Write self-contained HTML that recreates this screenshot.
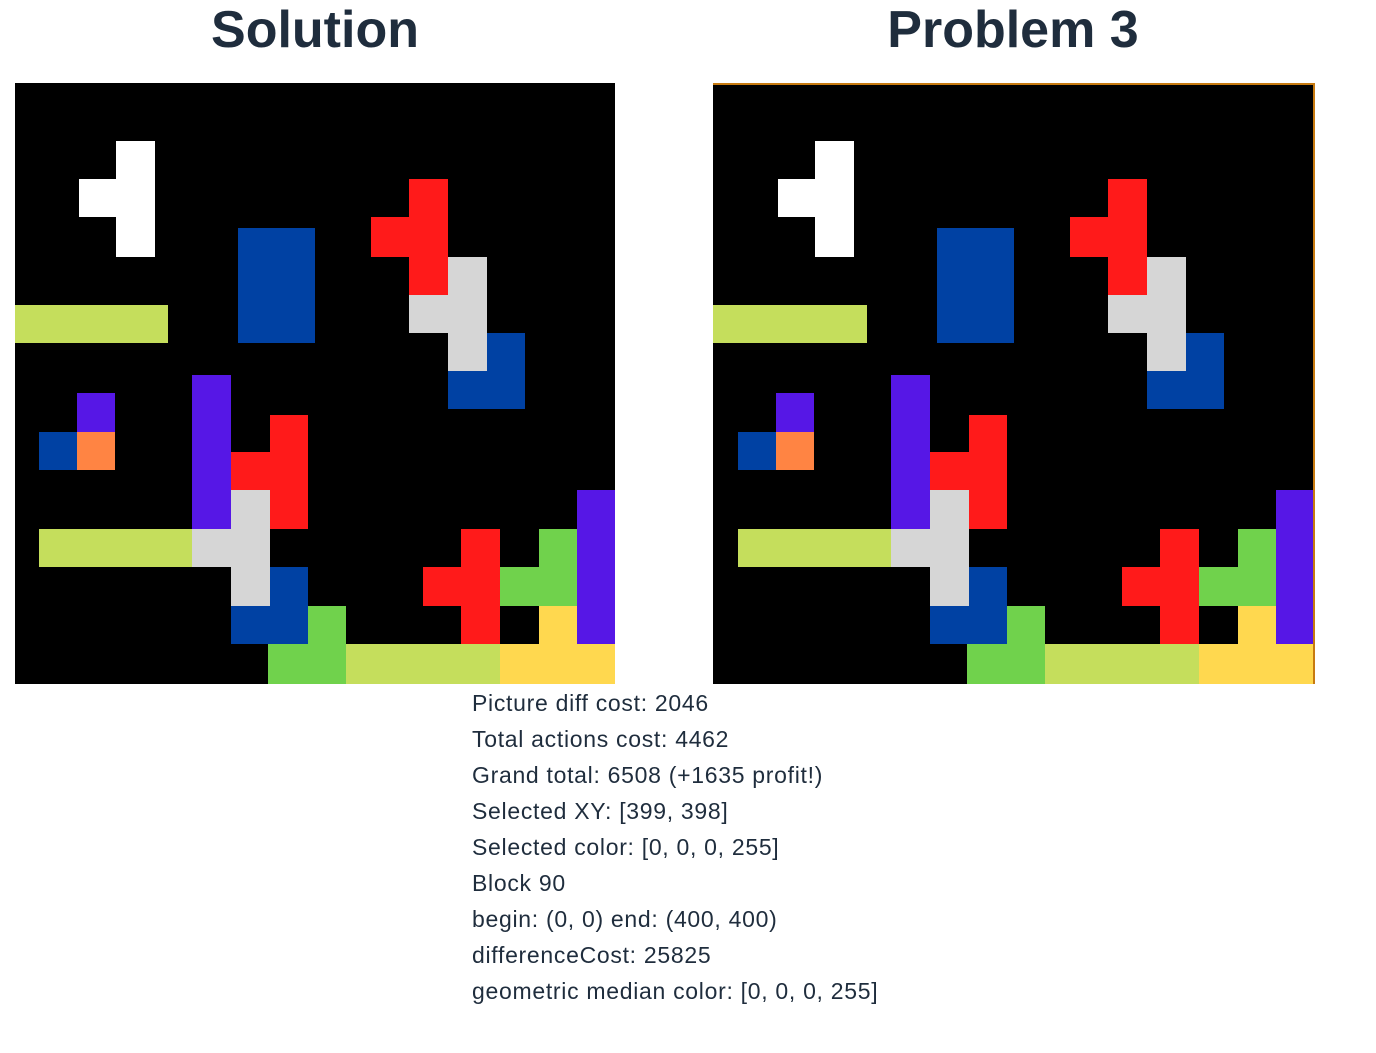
<!DOCTYPE html>
<html><head><meta charset="utf-8"><style>
body{margin:0;width:1376px;height:1053px;background:#fff;position:relative;overflow:hidden;font-family:"Liberation Sans",sans-serif;}
.title{position:absolute;top:0;font-weight:bold;font-size:52px;color:#1f2d3d;text-align:center;width:600px;line-height:60px;}
.canvas{position:absolute;background:#000;overflow:hidden;}
.b{position:absolute;}
.info{position:absolute;left:472px;top:685px;font-size:23px;letter-spacing:0.7px;color:#1f2d3d;line-height:36px;}
</style></head><body>
<div class="title" style="left:15px">Solution</div>
<div class="title" style="left:713px">Problem 3</div>
<div class="canvas" id="c1" style="left:15px;top:83px;width:600px;height:601px;"></div>
<div class="canvas" id="c2" style="left:713px;top:83px;height:601px;border-top:2px solid #c77a10;border-right:2px solid #c77a10;box-sizing:border-box;width:602px;"></div>
<div class="info">
<div>Picture diff cost: 2046</div>
<div>Total actions cost: 4462</div>
<div>Grand total: 6508 (+1635 profit!)</div>
<div>Selected XY: [399, 398]</div>
<div>Selected color: [0, 0, 0, 255]</div>
<div>Block 90</div>
<div>begin: (0, 0) end: (400, 400)</div>
<div>differenceCost: 25825</div>
<div>geometric median color: [0, 0, 0, 255]</div>
</div>
<script>
const W='#ffffff',B='#0041a3',Y='#c5de5c',R='#ff1a1a',G='#d6d6d6',P='#5617e6',O='#ff8443',GR='#70d24c',YE='#ffd84f';
const rects=[
[116,141,155,257,W],[79,179,155,217,W],
[238,228,315,343,B],
[14,305,168,343,Y],
[409,179,448,295,R],[371,217,448,257,R],
[448,257,487,371,G],[409,295,448,333,G],
[448,371,525,409,B],[487,333,525,371,B],
[77,393,115,432,P],[39,432,77,470,B],[77,432,115,470,O],
[192,375,231,529,P],
[270,415,308,529,R],[231,452,270,490,R],
[231,490,270,606,G],[192,529,231,567,G],
[39,529,192,567,Y],
[270,567,308,644,B],[231,606,270,644,B],
[308,606,346,644,GR],[268,644,346,684,GR],
[346,644,500,684,Y],
[461,529,500,644,R],[423,567,461,606,R],
[539,529,577,606,GR],[500,567,539,606,GR],
[577,490,615,644,P],
[539,606,577,644,YE],[500,644,615,684,YE]
];
function draw(id,ox,oy){
  const c=document.getElementById(id);
  rects.forEach(r=>{
    const d=document.createElement('div');
    d.className='b';
    
    
    d.style.left=(r[0]-ox)+'px';d.style.top=(r[1]-oy)+'px';
    d.style.width=(r[2]-r[0])+'px';d.style.height=(r[3]-r[1])+'px';
    d.style.background=r[4];
    c.appendChild(d);
  });
}
draw('c1',15,83);
draw('c2',14,85);
</script>
</body></html>
